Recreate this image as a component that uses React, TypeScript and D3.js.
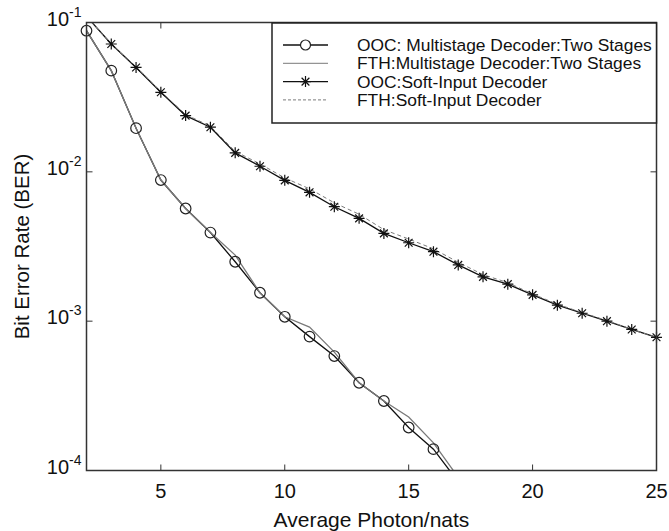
import React from 'react';
import * as d3 from 'd3';

// photon counts (x) for each curve
const multiX = [2, 3, 4, 5, 6, 7, 8, 9, 10, 11, 12, 13, 14, 15, 16, 17];
const softX = [2, 3, 4, 5, 6, 7, 8, 9, 10, 11, 12, 13, 14, 15, 16, 17, 18, 19, 20, 21, 22, 23, 24, 25];

// BER values
const oocMulti = [0.0881, 0.0476, 0.0196, 0.00881, 0.00568, 0.00392, 0.0025, 0.00155, 0.00107, 0.000788, 0.000584, 0.000387, 0.000292, 0.000194, 0.000139, 0.000084];
const fthMulti = [0.0881, 0.0476, 0.0196, 0.00881, 0.00568, 0.00392, 0.00277, 0.00155, 0.00107, 0.000913, 0.000621, 0.000387, 0.000292, 0.000228, 0.000153, 0.00009];
const oocSoft = [0.11, 0.0718, 0.05, 0.0341, 0.0238, 0.0199, 0.0134, 0.0109, 0.00877, 0.00729, 0.00584, 0.00488, 0.00387, 0.00335, 0.00292, 0.00238, 0.00198, 0.00177, 0.0015, 0.00128, 0.00113, 0.001, 0.00088, 0.00078];
const fthSoft = [0.11, 0.0718, 0.0505, 0.0345, 0.0242, 0.0202, 0.0137, 0.0113, 0.0091, 0.0077, 0.0062, 0.0052, 0.0041, 0.00355, 0.00305, 0.00248, 0.00205, 0.00181, 0.00152, 0.0013, 0.00114, 0.00101, 0.00088, 0.00078];

const xTicks = [5, 10, 15, 20, 25];
const yTicks = [1e-1, 1e-2, 1e-3, 1e-4];
const yTickExp = ['-1', '-2', '-3', '-4'];

const legendLabels = [
  'OOC: Multistage Decoder:Two Stages',
  'FTH:Multistage Decoder:Two Stages',
  'OOC:Soft-Input Decoder',
  'FTH:Soft-Input Decoder',
];

const W = 669;
const H = 531;
const margin = { top: 22.5, right: 12.5, bottom: 60.5, left: 86.5 };
const font = 'Liberation Sans, Arial, Helvetica, sans-serif';
const axisColor = '#333';
const gray = '#7a7a7a';

function Star({ cx, cy, r = 5.5, color = '#111' }: { cx: number; cy: number; r?: number; color?: string }) {
  const d = [0, 45, 90, 135]
    .map(a => {
      const t = (a * Math.PI) / 180;
      const dx = Math.cos(t) * r;
      const dy = Math.sin(t) * r;
      return `M${cx - dx},${cy - dy}L${cx + dx},${cy + dy}`;
    })
    .join('');
  return <path d={d} stroke={color} strokeWidth={1.2} fill="none" />;
}

export default function App() {
  const x = d3.scaleLinear().domain([2, 25]).range([margin.left, W - margin.right]);
  const y = d3.scaleLog().domain([1e-4, 1e-1]).range([H - margin.bottom, margin.top]);

  const line = d3.line<[number, number]>()
    .x(d => x(d[0]))
    .y(d => y(d[1]));

  const zip = (xs: number[], ys: number[]) => xs.map((v, i) => [v, ys[i]] as [number, number]);
  const inDomain = (p: [number, number]) => p[1] >= 1e-4 && p[1] <= 1e-1 && p[0] >= 2 && p[0] <= 25;

  const oocM = zip(multiX, oocMulti);
  const fthM = zip(multiX, fthMulti);
  const oocS = zip(softX, oocSoft);
  const fthS = zip(softX, fthSoft);

  const x0 = x(2), x1 = x(25), y0 = y(1e-4), y1 = y(1e-1);
  const tick = 6;

  const legend = { x: 272, y: 23, w: x1 - 272, h: 100, row: 18.3, first: 45 };

  return (
    <svg width={W} height={H} style={{ position: 'absolute', left: 0, top: 0, background: '#fff' }} fontFamily={font}>
      <defs>
        <clipPath id="plot">
          <rect x={x0} y={y1} width={x1 - x0} height={y0 - y1} />
        </clipPath>
      </defs>

      {/* curves */}
      <g clipPath="url(#plot)" fill="none">
        <path d={line(oocM) || ''} stroke="#111" strokeWidth={1.3} />
        <path d={line(fthM) || ''} stroke={gray} strokeWidth={1.3} />
        <path d={line(oocS) || ''} stroke="#111" strokeWidth={1.3} />
        <path d={line(fthS) || ''} stroke={gray} strokeWidth={1} strokeDasharray="4,3" />
      </g>

      {/* markers */}
      {oocM.filter(inDomain).map((p, i) => (
        <circle key={'c' + i} cx={x(p[0])} cy={y(p[1])} r={5.3} fill="none" stroke="#222" strokeWidth={1.2} />
      ))}
      {oocS.filter(inDomain).map((p, i) => (
        <Star key={'s' + i} cx={x(p[0])} cy={y(p[1])} />
      ))}

      {/* frame */}
      <rect x={x0} y={y1} width={x1 - x0} height={y0 - y1} fill="none" stroke={axisColor} strokeWidth={1.5} />

      {/* x ticks */}
      {xTicks.map(t => (
        <g key={'xt' + t}>
          <line x1={x(t)} x2={x(t)} y1={y0} y2={y0 - tick} stroke={axisColor} strokeWidth={1} />
          <line x1={x(t)} x2={x(t)} y1={y1} y2={y1 + tick} stroke={axisColor} strokeWidth={1} />
          <text x={x(t)} y={y0 + 27} textAnchor="middle" fontSize={20} fill="#111">{t}</text>
        </g>
      ))}

      {/* y ticks */}
      {yTicks.map((t, i) => (
        <g key={'yt' + i}>
          <line x1={x0} x2={x0 + tick} y1={y(t)} y2={y(t)} stroke={axisColor} strokeWidth={1} />
          <line x1={x1} x2={x1 - tick} y1={y(t)} y2={y(t)} stroke={axisColor} strokeWidth={1} />
          <text x={x0 - 5} y={y(t) + 3} textAnchor="end" fontSize={20} fill="#111">
            10<tspan dy={-9} fontSize={14}>{yTickExp[i]}</tspan>
          </text>
        </g>
      ))}

      {/* axis titles */}
      <text x={(x0 + x1) / 2} y={527} textAnchor="middle" fontSize={21} fill="#111">Average Photon/nats</text>
      <text transform={`translate(29,${(y0 + y1) / 2}) rotate(-90)`} textAnchor="middle" fontSize={20.5} fill="#111">
        Bit Error Rate (BER)
      </text>

      {/* legend */}
      <g>
        <rect x={legend.x} y={legend.y} width={legend.w} height={legend.h} fill="#fff" stroke="#222" strokeWidth={1.5} />
        {legendLabels.map((lab, i) => {
          const ly = legend.first + i * legend.row;
          return (
            <g key={'lg' + i}>
              {i === 0 && <line x1={283} x2={328} y1={ly} y2={ly} stroke="#111" strokeWidth={1.3} />}
              {i === 0 && <circle cx={305.5} cy={ly} r={5} fill="#fff" stroke="#222" strokeWidth={1.2} />}
              {i === 1 && <line x1={283} x2={328} y1={ly} y2={ly} stroke={gray} strokeWidth={1} />}
              {i === 2 && <line x1={283} x2={328} y1={ly} y2={ly} stroke="#111" strokeWidth={1.3} />}
              {i === 2 && <Star cx={305.5} cy={ly} />}
              {i === 3 && <line x1={283} x2={328} y1={ly} y2={ly} stroke={gray} strokeWidth={1} strokeDasharray="3,2" />}
              <text x={357} y={ly + 6} fontSize={17.4} fill="#111">{lab}</text>
            </g>
          );
        })}
      </g>
    </svg>
  );
}
